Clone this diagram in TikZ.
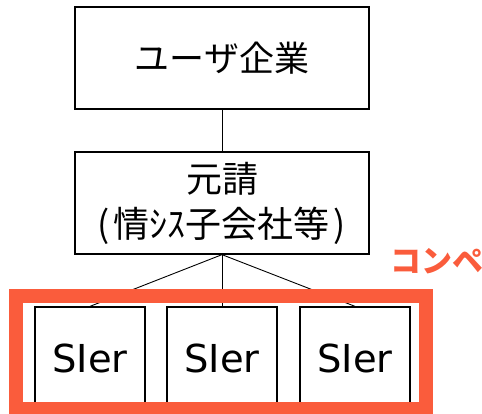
\documentclass[tikz,border=0pt]{standalone}
\usepackage{fontspec}
\newfontfamily\jp{Noto Sans CJK JP}
\newfontfamily\lat{DejaVu Sans}
\definecolor{compe}{RGB}{250,92,60}
\begin{document}
\begin{tikzpicture}[x=1pt,y=-1pt,
  box/.style={draw=black,line width=1.3pt,fill=white,inner sep=0pt},
  conn/.style={draw=black,line width=0.9pt},
  sier/.style={box,minimum width=110pt,minimum height=102pt,font=\lat\fontsize{38.5}{44}\selectfont}]
\useasboundingbox (0,0) rectangle (482,414);
\begin{scope}
\clip (0,0) rectangle (482,414);
\node[box,minimum width=294pt,minimum height=102pt,font=\jp\fontsize{35}{40}\selectfont] (user) at (222,58) {ユーザ企業};
\node[box,minimum width=294pt,minimum height=102pt,align=center,font=\jp\fontsize{36}{45}\selectfont] (moto) at (222,203) {元請\\(\kern4pt情ｼｽ子会社等\kern4pt)};
\node[sier] (s1) at (90,358) {SIer};
\node[sier] (s2) at (222,358) {SIer};
\node[sier] (s3) at (355,358) {SIer};
\draw[conn] (user.south) -- (moto.north);
\draw[conn] (moto.south) -- (s1.north);
\draw[conn] (moto.south) -- (s2.north);
\draw[conn] (moto.south) -- (s3.north);
\node[draw=compe,line width=14pt,minimum width=409.5pt,minimum height=113.5pt,inner sep=0pt] (frame) at (220.75,352.25) {};
\end{scope}
\node[text=compe,font=\jp\bfseries\fontsize{31}{36}\selectfont,inner sep=0pt] (compe) at (437,261) {コンペ};
\end{tikzpicture}
\end{document}
